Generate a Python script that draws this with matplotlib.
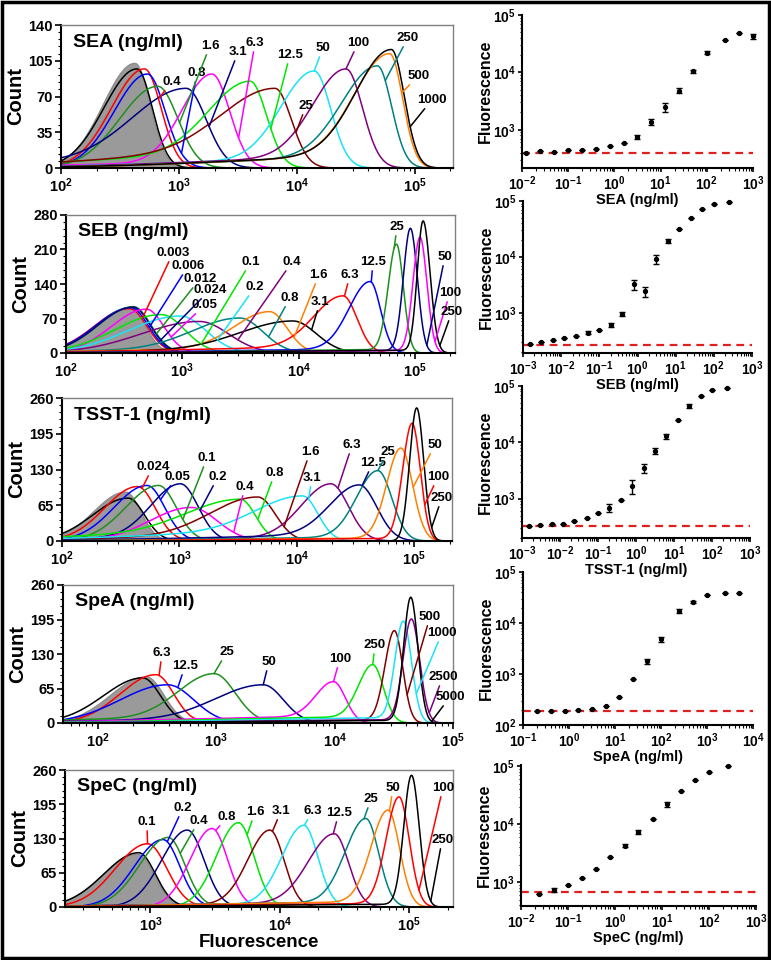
import numpy as np
import matplotlib
matplotlib.use('Agg')
import matplotlib.pyplot as plt
from matplotlib.ticker import LogLocator, NullFormatter, MultipleLocator, AutoMinorLocator
from matplotlib.patches import Rectangle

plt.rcParams['font.family'] = ['Liberation Sans', 'DejaVu Sans']
plt.rcParams['font.weight'] = 'bold'
plt.rcParams['axes.labelweight'] = 'bold'

RED, BLUE, DKGREEN, NAVY = '#ff0000', '#0000ff', '#1f8f1f', '#000080'
MAGENTA, LIME, MAROON, CYAN = '#ff00ff', '#00e600', '#800000', '#19e3f5'
PURPLE, TEAL, ORANGE, BLACK = '#800080', '#008080', '#ff8000', '#000000'

# ---- histogram panels: peak position, peak count, left/right width (decades), tail fraction
# first entry of most lists is the unlabelled blank sample
sea_labels = ['', '0.4', '0.8', '1.6', '3.1', '6.3', '12.5', '25', '50', '100', '250', '500', '1000']
sea_peak = [440, 510, 540, 660, 1150, 1900, 4000, 6500, 14000, 26000, 48000, 61000, 63000]
sea_height = [97, 97, 92, 80, 78, 92, 85, 78, 95, 97, 100, 112, 116]
sea_sl = [.28, .28, .28, .32, .45, .25, .35, .45, .28, .28, .3, .3, .3]
sea_sr = [.13, .14, .15, .17, .17, .15, .14, .14, .14, .14, .12, .11, .11]
sea_tail = [0, 0, 0, 0, .1, .05, .15, .2, .08, .1, .1, .1, .1]
sea_fill = (420, 103, .27, .13)
sea_colors = [BLACK, RED, BLUE, DKGREEN, NAVY, MAGENTA, LIME, MAROON, CYAN, PURPLE, TEAL, ORANGE, BLACK]
sea_lab_fx = [None, .283, .347, .380, .452, .495, .584, .625, .668, .758, .885, .911, .946]
sea_lab_fy = [None, .601, .664, .853, .811, .874, .790, .434, .839, .874, .909, .643, .476]
sea_lead_x = [None, 670, 1050, 1010, 1800, 3200, 6000, 9800, 14000, 26000, 56000, 77000, 91000]

seb_labels = ['0.003', '0.006', '0.012', '0.024', '0.05', '0.1', '0.2', '0.4', '0.8', '1.6', '3.1',
              '6.3', '12.5', '25', '50', '100', '250']
seb_peak = [350, 360, 380, 375, 490, 660, 960, 1400, 3100, 5600, 8900, 24000, 41000, 69000, 91000, 110000, 117000]
seb_height = [90, 92, 94, 93, 89, 78, 75, 64, 71, 84, 65, 116, 145, 221, 253, 235, 268]
seb_sl = [.3, .3, .3, .3, .3, .4, .45, .5, .4, .3, .45, .25, .18, .07, .06, .06, .05]
seb_sr = [.15, .15, .15, .15, .15, .2, .22, .25, .2, .15, .2, .12, .09, .06, .06, .06, .06]
seb_tail = [0, 0, 0, 0, 0, 0, 0, 0, .1, .1, .1, .1, .05, .03, .02, .02, .02]
seb_fill = (355, 91, .3, .13)
seb_colors = [RED, BLUE, DKGREEN, NAVY, MAGENTA, LIME, CYAN, PURPLE, TEAL, ORANGE, BLACK,
              RED, BLUE, DKGREEN, NAVY, MAGENTA, BLACK]
seb_lab_fx = [.275, .314, .344, .370, .357, .475, .486, .581, .576, .650, .653, .730, .789, .851, .974, .987, .992]
seb_lab_fy = [.725, .630, .536, .457, .348, .659, .478, .659, .399, .565, .370, .565, .659, .913, .696, .435, .297]
seb_lead_x = [450, 520, 600, 650, 800, 1450, 2000, 3000, 5500, 9100, 12900, 24700, 42000, 66000, 126000, 148000, 163000]

tsst_labels = ['', '0.024', '0.05', '0.1', '0.2', '0.4', '0.8', '1.6', '3.1', '6.3', '12.5', '25', '50', '100', '250']
tsst_peak = [365, 440, 530, 665, 1020, 1260, 3300, 4650, 11200, 19500, 34000, 49000, 77000, 96000, 105000]
tsst_height = [78, 99, 101, 101, 104, 61, 76, 80, 82, 104, 102, 128, 169, 214, 242]
tsst_sl = [.3, .28, .28, .28, .25, .35, .45, .4, .4, .25, .25, .18, .12, .08, .06]
tsst_sr = [.14, .15, .15, .15, .15, .22, .13, .15, .13, .15, .15, .12, .1, .07, .06]
tsst_tail = [0, 0, 0, 0, .05, 0, .2, .1, .2, .05, .1, .05, .03, .02, 0]
tsst_fill = (345, 90, .27, .13)
tsst_colors = [BLACK, RED, BLUE, DKGREEN, NAVY, MAGENTA, LIME, MAROON, CYAN, PURPLE, NAVY, TEAL, ORANGE, RED, BLACK]
tsst_lab_fx = [None, .233, .295, .372, .400, .469, .546, .636, .641, .744, .797, .836, .956, .964, .974]
tsst_lab_fy = [None, .517, .448, .580, .448, .378, .476, .622, .441, .671, .545, .622, .671, .448, .301]
tsst_lead_x = [None, 480, 690, 1070, 1500, 2900, 4650, 7800, 12600, 22400, 36000, 49000, 98000, 123000, 141000]

spea_labels = ['', '6.3', '12.5', '25', '50', '100', '250', '500', '1000', '2500', '5000']
spea_peak = [240, 310, 390, 960, 2500, 9800, 21000, 32000, 38000, 44500, 44000]
spea_height = [85, 91, 72, 93, 72, 78, 110, 174, 192, 196, 237]
spea_sl = [.33, .3, .4, .3, .4, .15, .12, .08, .07, .07, .06]
spea_sr = [.15, .15, .22, .18, .17, .1, .09, .07, .07, .07, .06]
spea_tail = [0, 0, 0, .1, .1, .15, .1, .03, .05, .03, .02]
spea_fill = (255, 88, .3, .15)
spea_colors = [BLACK, RED, BLUE, DKGREEN, NAVY, MAGENTA, LIME, MAROON, CYAN, PURPLE, BLACK]
spea_lab_fx = [None, .254, .313, .420, .528, .710, .800, .941, .972, .974, .992]
spea_lab_fy = [None, .507, .413, .514, .442, .464, .565, .768, .652, .333, .188]
spea_lead_x = [None, 330, 475, 960, 2500, 9800, 21000, 41000, 49000, 63000, 66000]

spec_labels = ['', '0.1', '0.2', '0.4', '', '0.8', '1.6', '3.1', '6.3', '12.5', '25', '50', '100', '250']
spec_peak = [810, 950, 1250, 1370, 1930, 3000, 4800, 8400, 15400, 26500, 46500, 69000, 84000, 105000]
spec_height = [103, 120, 128, 132, 146, 149, 160, 146, 155, 139, 168, 184, 209, 250]
spec_sl = [.27, .25, .22, .22, .2, .17, .17, .17, .17, .2, .16, .13, .1, .06]
spec_sr = [.13, .15, .13, .13, .13, .12, .12, .11, .11, .11, .1, .09, .08, .06]
spec_tail = [0, 0, 0, 0, 0, 0, 0, .03, .03, .05, .05, .05, .03, .02]
spec_fill = (790, 101, .27, .13)
spec_colors = [BLACK, RED, BLUE, DKGREEN, NAVY, MAGENTA, LIME, MAROON, CYAN, PURPLE, TEAL, ORANGE, RED, BLACK]
spec_lab_fx = [None, .211, .304, .345, None, .418, .490, .557, .639, .706, .789, .845, .974, .972]
spec_lab_fy = [None, .620, .723, .628, None, .657, .693, .701, .701, .686, .788, .869, .869, .489]
spec_lead_x = [None, 950, 1350, 1700, None, 3200, 5600, 8800, 15500, 26000, 45000, 71000, 120000, 148000]

# ---- dose-response panels
sea_conc = [0.012, 0.024, 0.05, 0.1, 0.2, 0.4, 0.8, 1.6, 3.1, 6.3, 12.5, 25, 50, 100, 250, 500, 1000]
sea_mfi = [390, 418, 408, 435, 447, 465, 510, 585, 740, 1360, 2500, 4800, 10400, 22000, 37000, 48000, 43000]
sea_sd = [0, 0, 0, 0, 0, 0, 0, 0, 60, 160, 450, 500, 700, 1500, 0, 0, 4500]
sea_lod = 390

seb_conc = [0.0015, 0.003, 0.006, 0.012, 0.024, 0.05, 0.1, 0.2, 0.4, 0.8, 1.6, 3.1, 6.3, 12.5, 25, 50, 100, 250]
seb_mfi = [270, 300, 325, 350, 380, 440, 490, 600, 950, 3200, 2400, 9100, 19500, 31000, 50000, 73000, 90000, 95000]
seb_sd = [0, 0, 0, 0, 0, 25, 0, 50, 90, 600, 500, 1500, 1500, 0, 0, 0, 0, 0]
seb_lod = 263

tsst_conc = [0.0015, 0.003, 0.006, 0.012, 0.024, 0.05, 0.1, 0.2, 0.4, 0.8, 1.6, 3.1, 6.3, 12.5, 25, 50, 100, 250]
tsst_mfi = [330, 345, 355, 350, 400, 455, 565, 690, 960, 1650, 3500, 7100, 12800, 24500, 44000, 67000, 84000, 91000]
tsst_sd = [0, 0, 0, 0, 0, 0, 0, 100, 0, 450, 700, 800, 1200, 0, 3000, 0, 0, 0]
tsst_lod = 330

spea_conc = [0.2, 0.4, 0.8, 1.6, 3.1, 6.3, 12.5, 25, 50, 100, 250, 500, 1000, 2500, 5000]
spea_mfi = [192, 192, 192, 195, 205, 233, 355, 800, 1800, 4800, 17000, 26000, 35000, 39000, 39000]
spea_sd = [0, 0, 0, 0, 0, 0, 0, 0, 200, 500, 1500, 1000, 0, 0, 0]
spea_lod = 192

spec_conc = [0.024, 0.05, 0.1, 0.2, 0.4, 0.8, 1.6, 3.1, 6.3, 12.5, 25, 50, 100, 250]
spec_mfi = [630, 740, 910, 1190, 1690, 2700, 4300, 7400, 12200, 22000, 37000, 58000, 81000, 100000]
spec_sd = [0, 50, 0, 0, 0, 0, 300, 700, 0, 2000, 0, 0, 0, 0]
spec_lod = 690

W, H = 771, 960


def rect(l, t, r, b):
    return [l / W, 1 - b / H, (r - l) / W, (b - t) / H]


def peak_shape(lx, peak, height, sl, sr, tail):
    d = lx - np.log10(peak)
    main = np.exp(-0.5 * (d / np.where(d < 0, sl, sr)) ** 2)
    wide = np.exp(-0.5 * (d / np.where(d < 0, 1.3, sr)) ** 2)
    return height * ((1 - tail) * main + tail * wide)


def hist_panel(box, xlim, ymax, title, fill, labels, peak, height, sl, sr, tail,
               colors, fx, fy, lead_x, xlabel=None):
    ax = fig.add_axes(rect(*box))
    lx = np.linspace(np.log10(xlim[0]), np.log10(xlim[1]), 700)
    xs = 10 ** lx
    ax.fill_between(xs, 0, peak_shape(lx, *fill, 0), color='#9a9a9a', lw=0.8, ec='#888888')
    for i in range(len(peak)):
        ys = peak_shape(lx, peak[i], height[i], sl[i], sr[i], tail[i])
        ax.plot(xs, ys, color=colors[i], lw=1.1)
    for i in range(len(peak)):
        if not labels[i]:
            continue
        lxe = np.log10(lead_x[i])
        ye = peak_shape(lxe, peak[i], height[i], sl[i], sr[i], tail[i])
        ax.annotate(labels[i], xy=(lead_x[i], ye), xytext=(fx[i], fy[i]),
                    textcoords='axes fraction', ha='center', va='center',
                    fontsize=9.5, fontweight='bold', annotation_clip=False,
                    arrowprops=dict(arrowstyle='-', color=colors[i], lw=1.1,
                                    shrinkA=0, shrinkB=0))
    ax.set_xscale('log')
    ax.set_xlim(*xlim)
    ax.set_ylim(0, ymax)
    ax.yaxis.set_major_locator(MultipleLocator(ymax / 4))
    ax.yaxis.set_minor_locator(AutoMinorLocator(5))
    ax.xaxis.set_major_locator(LogLocator(base=10, numticks=10))
    ax.xaxis.set_minor_locator(LogLocator(base=10, subs=np.arange(2, 10), numticks=20))
    ax.xaxis.set_minor_formatter(NullFormatter())
    for s in ['left', 'bottom']:
        ax.spines[s].set_linewidth(1.5)
    for s in ['top', 'right']:
        ax.spines[s].set_color('#808080')
        ax.spines[s].set_linewidth(1.0)
    ax.tick_params(which='major', direction='out', length=4, width=1.2, labelsize=10.5, pad=2)
    ax.tick_params(which='minor', direction='out', length=2, width=0.8)
    ax.set_ylabel('Count', fontsize=14.5, labelpad=2)
    ax.text(0.03, 0.88, title, transform=ax.transAxes, fontsize=14, fontweight='bold',
            va='center', ha='left')
    if xlabel:
        ax.set_xlabel(xlabel, fontsize=13.5, labelpad=0)
    return ax


def dose_panel(box, conc, mfi, sd, lod, xlim, ylim, xlabel):
    ax = fig.add_axes(rect(*box))
    ax.set_facecolor('none')
    ax.set_xscale('log')
    ax.set_yscale('log')
    ax.axhline(lod, color='#e0201f', ls=(0, (3.5, 2.5)), lw=1.6, zorder=1)
    ax.errorbar(conc, mfi, yerr=sd, fmt='o', ms=2.8, color='black', ecolor='black',
                elinewidth=1.0, capsize=2.2, capthick=1.0, clip_on=False, zorder=3)
    ax.set_xlim(*xlim)
    ax.set_ylim(*ylim)
    ax.spines['top'].set_visible(False)
    ax.spines['right'].set_visible(False)
    for s in ['left', 'bottom']:
        ax.spines[s].set_linewidth(1.5)
    ax.xaxis.set_major_locator(LogLocator(base=10, numticks=12))
    ax.xaxis.set_minor_locator(LogLocator(base=10, subs=np.arange(2, 10), numticks=40))
    ax.yaxis.set_major_locator(LogLocator(base=10, numticks=12))
    ax.yaxis.set_minor_locator(LogLocator(base=10, subs=np.arange(2, 10), numticks=40))
    ax.xaxis.set_minor_formatter(NullFormatter())
    ax.yaxis.set_minor_formatter(NullFormatter())
    ax.tick_params(which='major', direction='out', length=3, width=1.2, labelsize=10, pad=1.5)
    ax.tick_params(which='minor', direction='out', length=1.8, width=0.8)
    ax.set_xlabel(xlabel, fontsize=10.5, labelpad=0)
    ax.set_ylabel('Fluorescence', fontsize=11.5, labelpad=0)
    return ax


fig = plt.figure(figsize=(W / 100, H / 100), dpi=100)

hist_panel((61, 25, 453, 168), (100, 2.1e5), 140, 'SEA (ng/ml)', sea_fill, sea_labels, sea_peak,
           sea_height, sea_sl, sea_sr, sea_tail, sea_colors, sea_lab_fx, sea_lab_fy, sea_lead_x)
hist_panel((66, 215, 455, 353), (100, 2.2e5), 280, 'SEB (ng/ml)', seb_fill, seb_labels, seb_peak,
           seb_height, seb_sl, seb_sr, seb_tail, seb_colors, seb_lab_fx, seb_lab_fy, seb_lead_x)
hist_panel((62, 398, 452, 541), (100, 2.1e5), 260, 'TSST-1 (ng/ml)', tsst_fill, tsst_labels, tsst_peak,
           tsst_height, tsst_sl, tsst_sr, tsst_tail, tsst_colors, tsst_lab_fx, tsst_lab_fy, tsst_lead_x)
hist_panel((63, 585, 453, 723), (51, 1e5), 260, 'SpeA (ng/ml)', spea_fill, spea_labels, spea_peak,
           spea_height, spea_sl, spea_sr, spea_tail, spea_colors, spea_lab_fx, spea_lab_fy, spea_lead_x)
hist_panel((65, 770, 453, 907), (218, 2.2e5), 260, 'SpeC (ng/ml)', spec_fill, spec_labels, spec_peak,
           spec_height, spec_sl, spec_sr, spec_tail, spec_colors, spec_lab_fx, spec_lab_fy, spec_lead_x,
           xlabel='Fluorescence')

dose_panel((522, 15, 753, 168), sea_conc, sea_mfi, sea_sd, sea_lod, (0.01, 1000), (215, 1e5), 'SEA (ng/ml)')
dose_panel((523, 201, 752, 353), seb_conc, seb_mfi, seb_sd, seb_lod, (0.001, 1000), (190, 1e5), 'SEB (ng/ml)')
dose_panel((522, 386, 750, 538), tsst_conc, tsst_mfi, tsst_sd, tsst_lod, (0.001, 1000), (200, 1e5), 'TSST-1 (ng/ml)')
dose_panel((523, 572, 753, 725), spea_conc, spea_mfi, spea_sd, spea_lod, (0.1, 1e4), (100, 1e5), 'SpeA (ng/ml)')
dose_panel((521, 765, 756, 906), spec_conc, spec_mfi, spec_sd, spec_lod, (0.01, 1000), (390, 1.05e5), 'SpeC (ng/ml)')

fig.patches.append(Rectangle((0.002, 0.002), 0.996, 0.996, transform=fig.transFigure,
                             fill=False, lw=2.5, ec='black'))

fig.savefig('out.png', dpi=100)
